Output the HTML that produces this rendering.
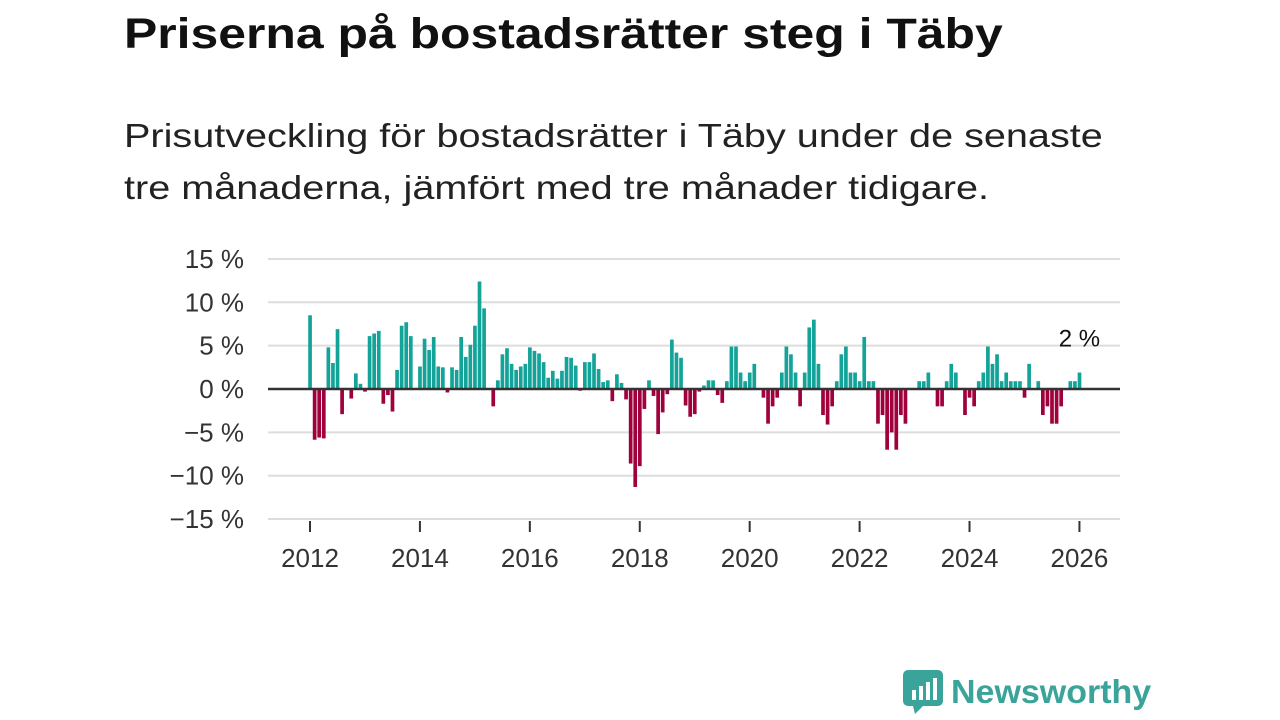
<!DOCTYPE html>
<html><head><meta charset="utf-8">
<style>
body{margin:0;width:1280px;height:720px;background:#fff;font-family:"Liberation Sans",sans-serif;overflow:hidden;position:relative}
h1{position:absolute;left:124px;top:10px;margin:0;font-size:43px;font-weight:bold;color:#111;transform:scaleX(1.16);transform-origin:left top;white-space:nowrap}
.sub{position:absolute;left:124px;top:110px;margin:0;font-size:33px;line-height:52px;color:#222;transform:scaleX(1.2);transform-origin:left top;white-space:nowrap}
svg{position:absolute;left:0;top:0}
.logo{position:absolute;left:903px;top:670px;display:flex;align-items:center;gap:8px;color:#3aa39a;font-size:33px;font-weight:bold}
.logo span{display:inline-block;transform:scaleX(1.03);transform-origin:left center}
</style></head><body>
<h1>Priserna på bostadsrätter steg i Täby</h1>
<p class="sub">Prisutveckling för bostadsrätter i Täby under de senaste<br>tre månaderna, jämfört med tre månader tidigare.</p>
<svg id="chart" width="1280" height="720"></svg>
<div class="logo">
<svg width="40" height="44" style="position:static"><rect x="0" y="0" width="40" height="36" rx="5" fill="#3aa39a"/><polygon points="10,36 20,36 12,44" fill="#3aa39a"/><rect x="9" y="20" width="4" height="10" fill="#fff"/><rect x="16" y="16" width="4" height="14" fill="#fff"/><rect x="23" y="12" width="4" height="18" fill="#fff"/><rect x="30" y="8" width="4" height="22" fill="#fff"/></svg>
<span>Newsworthy</span></div>
<script>
const values=[8.5,-5.85,-5.6,-5.7,4.8,3.0,6.9,-2.9,0,-1.1,1.8,0.6,
-0.3,6.1,6.4,6.7,-1.7,-0.7,-2.6,2.2,7.3,7.7,6.1,0.1,
2.6,5.8,4.5,6.0,2.6,2.5,-0.4,2.5,2.2,6.0,3.7,5.1,
7.3,12.4,9.3,0,-2.0,1.0,4.0,4.7,2.9,2.2,2.6,2.9,
4.8,4.4,4.1,3.1,1.3,2.1,1.2,2.1,3.7,3.6,2.7,-0.2,
3.1,3.1,4.1,2.3,0.8,1.0,-1.4,1.7,0.7,-1.2,-8.6,-11.3,
-8.9,-2.3,1.0,-0.8,-5.2,-2.7,-0.6,5.7,4.2,3.6,-1.9,-3.2,
-2.9,-0.3,0.4,1.0,1.0,-0.7,-1.6,0.9,4.9,4.9,1.9,0.9,
1.9,2.9,0,-1.0,-4.0,-2.0,-1.0,1.9,4.9,4.0,1.9,-2.0,
1.9,7.1,8.0,2.9,-3.0,-4.1,-2.0,0.9,4.0,4.9,1.9,1.9,
0.9,6.0,0.9,0.9,-4.0,-3.0,-7.0,-5.0,-7.0,-3.0,-4.0,0,
0,0.9,0.9,1.9,0,-2.0,-2.0,0.9,2.9,1.9,0,-3.0,
-1.0,-2.0,0.9,1.9,4.9,2.9,4.0,0.9,1.9,0.9,0.9,0.9,
-1.0,2.9,0,0.9,-3.0,-2.0,-4.0,-4.0,-2.0,0,0.9,0.9,1.9];
const yTicks=[15,10,5,0,-5,-10,-15];
const yTickLabels=["15 %","10 %","5 %","0 %","−5 %","−10 %","−15 %"];
const xYears=[2012,2014,2016,2018,2020,2022,2024,2026];
const ns="http://www.w3.org/2000/svg";
const svg=document.getElementById("chart");
const y=v=>389-v*8.67;
const x=i=>310+i*4.58;
const xYear=yr=>x((yr-2012)*12);
function mk(t,a){const e=document.createElementNS(ns,t);for(const k in a)e.setAttribute(k,a[k]);svg.appendChild(e);return e;}
yTicks.forEach((t,i)=>{
 if(t!==0){const g=mk("line",{x1:268,x2:1120,y1:y(t),y2:y(t),stroke:"#ddd","stroke-width":2});
 
 }
 const l=mk("text",{x:244,y:y(t)+9,"text-anchor":"end","font-size":26,fill:"#333","font-family":"Liberation Sans, sans-serif"});
 l.textContent=yTickLabels[i];
 
 
});
xYears.forEach(yr=>{
 const tk=mk("line",{x1:xYear(yr),x2:xYear(yr),y1:521,y2:532,stroke:"#333","stroke-width":2});
 
 
 const l=mk("text",{x:xYear(yr),y:567,"text-anchor":"middle","font-size":26,fill:"#333","font-family":"Liberation Sans, sans-serif"});
 l.textContent=yr;
 
 
});
values.forEach((v,i)=>{
 if(v===0)return;
 const b=mk("rect",{x:x(i)-1.8,width:3.7,y:Math.min(y(v),y(0)),height:Math.abs(y(v)-y(0)),fill:v>0?"#14a399":"#a0003c"});
 
 
});
const z=mk("line",{x1:268,x2:1120,y1:y(0),y2:y(0),stroke:"#333","stroke-width":2.5});


const last=values[values.length-1];
const lab=mk("text",{x:x(values.length-1),y:y(last)-26,"text-anchor":"middle","font-size":24,fill:"#111","font-family":"Liberation Sans, sans-serif"});
lab.textContent=Math.round(last)+" %";


</script>
</body></html>
